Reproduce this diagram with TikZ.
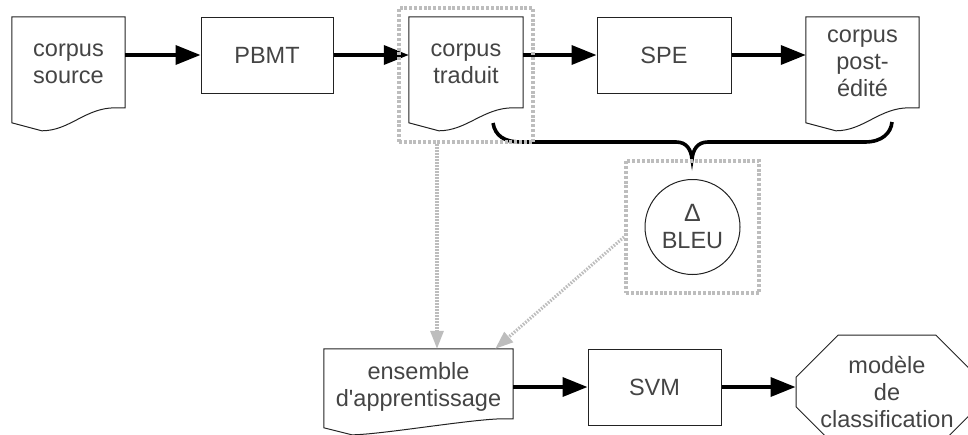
\documentclass[tikz,border=0pt]{standalone}
\usepackage{fontspec}
\newfontfamily\lsans{Liberation Sans}
\usetikzlibrary{arrows.meta,shapes.misc}
\definecolor{txt}{HTML}{444444}
\definecolor{dotg}{HTML}{BDBDBD}
\definecolor{edge}{HTML}{222222}
% #1 node, #2 right-bottom drop, #3 left-bottom drop, #4 x of lowest point, #5 lowest drop (all from the top edge)
\newcommand\docoutline[5]{%
  \draw[docline] (#1.north west) -- (#1.north east) -- ([yshift=-#2pt]#1.north east)
    -- ++(-10pt,0pt) .. controls +(-30pt,0pt) and +(28pt,0pt) .. ([shift={(#4pt,-#5pt)}]#1.north west)
    -- ([yshift=-#3pt]#1.north west) -- cycle;}
\begin{document}
\begin{tikzpicture}[x=1pt,y=-1pt,
  font=\lsans\fontsize{23.5}{27}\selectfont,
  docline/.style={draw=edge, line width=1pt},
  tbox/.style={draw=edge, line width=1pt, text=txt, inner sep=0pt, minimum height=76pt, align=center},
  tdoc/.style={text=txt, inner sep=0pt, align=center},
  flow/.style={line width=3.6pt, -{Triangle[length=25pt,width=19pt]}},
  dotbox/.style={draw=dotg, line width=4pt, dash pattern=on 3pt off 1.8pt, inner sep=0pt},
  dotarrow/.style={draw=dotg, line width=3.2pt, dash pattern=on 1.6pt off 1.4pt, -{Triangle[length=18pt,width=13pt,fill=dotg]}},
  brace/.style={line width=3.6pt}]
\useasboundingbox (0,0) rectangle (968,434);
\clip (0,0) rectangle (968,434);

% top row
\node[tdoc, minimum width=113pt, minimum height=93pt] (cs) at (68.5,63.5) {corpus\\source};
\node[tbox, minimum width=132pt] (pbmt) at (267,55) {PBMT};
\node[tdoc, minimum width=114pt, minimum height=93pt] (trad) at (466,63.5) {corpus\\traduit};
\node[tbox, minimum width=134pt] (spe) at (664,55) {SPE};
\node[tdoc, minimum width=113pt, minimum height=93pt] (post) at (862.5,63.5) {corpus\\post-\\édité};
\docoutline{cs}{91}{106}{30}{114}
\docoutline{trad}{91}{106}{30}{114}
\docoutline{post}{91}{106}{30}{114}

\draw[flow] (cs.east |- pbmt.west) -- (pbmt.west);
\draw[flow] (pbmt.east) -- (pbmt.east -| trad.west);
\draw[flow] (trad.east |- spe.west) -- (spe.west);
\draw[flow] (spe.east) -- (spe.east -| post.west);

% brace
\draw[brace] (493,123) .. controls (495,136) and (505,142) .. (520,142) -- (676,142)
  .. controls (687,142) and (691,150) .. (692,159)
  .. controls (693,150) and (697,142) .. (708,142) -- (865,142)
  .. controls (882,142) and (891,133) .. (892,122);

% BLEU
\node[circle, draw=edge, line width=1pt, minimum size=95pt, inner sep=0pt, text=txt, align=center] (bleu) at (692.5,227)
  {{\fontsize{25}{27}\selectfont\symbol{"0394}}\\BLEU};

% bottom row
\node[tdoc, minimum width=189pt, minimum height=76pt] (ens) at (418.5,387) {ensemble\\d'apprentissage};
\docoutline{ens}{70}{79}{28}{86}
\node[tbox, minimum width=133pt] (svm) at (654.5,387) {SVM};
\node[chamfered rectangle, chamfered rectangle xsep=21pt, chamfered rectangle ysep=21pt, draw=edge, line width=1pt,
  minimum width=182pt, minimum height=89pt, inner sep=0pt, text=txt, align=center] (mod) at (887,392)
  {modèle\\de\\classification};
\draw[flow] (ens.east) -- (svm.west);
\draw[flow] (svm.east) -- (svm.east -| mod.west);

% dotted groups
\node[dotbox, minimum width=134pt, minimum height=134pt] (tradbox) at (466,75) {};
\node[dotbox, minimum width=133pt, minimum height=132pt] (bleubox) at (692.5,227) {};
\draw[dotarrow] ([xshift=-29pt]tradbox.south) -- ([xshift=18.5pt]ens.north);
\draw[dotarrow] ([yshift=-10pt]bleubox.west) -- ([xshift=-18pt]ens.north east);
\end{tikzpicture}
\end{document}
